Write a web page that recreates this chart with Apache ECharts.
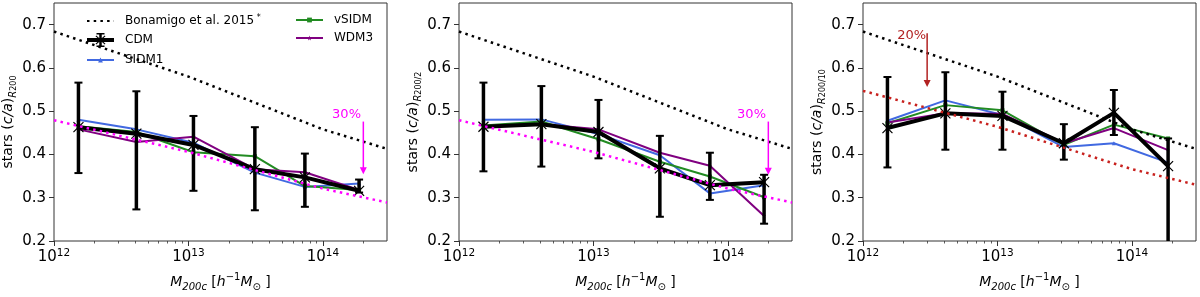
<!DOCTYPE html>
<html>
<head>
<meta charset="utf-8">
<script src="https://cdn.jsdelivr.net/npm/echarts@6/dist/echarts.min.js"></script>
<style>html,body{margin:0;padding:0;background:#fff}#c{width:1200px;height:297px}</style>
</head>
<body>
<div id="c"></div>
<script>
// ---- data ----
const massBins = [1.52e12, 4.1e12, 1.09e13, 3.12e13, 7.35e13, 1.86e14];

const bonamigoMass = [1e12, 1e13, 1e14, 3e14];
const bonamigoCA   = [0.684, 0.580, 0.458, 0.413];
const bonamigo70   = [0.479, 0.406, 0.321, 0.289];   // 30% lower
const bonamigo80   = [0.547, 0.464, 0.366, 0.330];   // 20% lower

// panel 1: R200
const cdmP1   = [0.463, 0.448, 0.422, 0.366, 0.347, 0.316];
const cdmLoP1 = [0.357, 0.273, 0.316, 0.271, 0.279, 0.312];
const cdmHiP1 = [0.566, 0.546, 0.489, 0.463, 0.402, 0.342];
const sidm1P1 = [0.480, 0.458, 0.427, 0.358, 0.325, 0.333];
const vsidmP1 = [0.465, 0.452, 0.405, 0.396, 0.327, 0.318];
const wdm3P1  = [0.458, 0.429, 0.441, 0.366, 0.359, 0.318];

// panel 2: R200/2
const cdmP2   = [0.464, 0.470, 0.452, 0.368, 0.329, 0.336];
const cdmLoP2 = [0.361, 0.372, 0.391, 0.256, 0.295, 0.240];
const cdmHiP2 = [0.566, 0.558, 0.526, 0.443, 0.404, 0.353];
const sidm1P2 = [0.480, 0.481, 0.447, 0.398, 0.310, 0.329];
const vsidmP2 = [0.467, 0.476, 0.435, 0.383, 0.349, 0.301];
const wdm3P2  = [0.465, 0.470, 0.458, 0.404, 0.374, 0.258];

// panel 3: R200/10
const cdmP3   = [0.461, 0.495, 0.489, 0.426, 0.496, 0.373];
const cdmLoP3 = [0.370, 0.411, 0.411, 0.388, 0.445, 0.150];
const cdmHiP3 = [0.579, 0.590, 0.545, 0.470, 0.549, 0.437];
const sidm1P3 = [0.478, 0.525, 0.491, 0.417, 0.426, 0.381];
const vsidmP3 = [0.472, 0.514, 0.502, 0.422, 0.469, 0.437];
const wdm3P3  = [0.474, 0.495, 0.494, 0.426, 0.461, 0.410];

// annotations (arrow from top to tip, label position)
const arrowMass = [2e14, 2e14, 3e12];
const arrowTop  = [0.476, 0.476, 0.680];
const arrowTip  = [0.354, 0.353, 0.556];
const noteMass  = [1.5e14, 1.5e14, 2.3e12];
const noteCA    = [0.491, 0.491, 0.674];
const noteText  = ['30%', '30%', '20%'];

const yTicks = [0.2, 0.3, 0.4, 0.5, 0.6, 0.7];
const xMajor = [1e12, 1e13, 1e14];
const xMinor = [2e12,3e12,4e12,5e12,6e12,7e12,8e12,9e12,2e13,3e13,4e13,5e13,6e13,7e13,8e13,9e13,2e14,3e14];
const ySubs  = ['200', '200/2', '200/10'];

// ---- styling ----
const FONT = 'DejaVu Sans';
const C_BLUE = '#4169e1', C_GREEN = '#228b22', C_PURPLE = '#800080';
const C_MAG = '#ff00ff', C_RED = '#b22222';
const gridLefts = [54, 459, 863];
const GW = 333;

const pairs = (xs, ys) => xs.map((x, i) => [x, ys[i]]);

const panels = [
  {cdm: cdmP1, lo: cdmLoP1, hi: cdmHiP1, sidm: sidm1P1, vsidm: vsidmP1, wdm: wdm3P1, ref: bonamigo70, refColor: C_MAG, noteColor: C_MAG},
  {cdm: cdmP2, lo: cdmLoP2, hi: cdmHiP2, sidm: sidm1P2, vsidm: vsidmP2, wdm: wdm3P2, ref: bonamigo70, refColor: C_MAG, noteColor: C_MAG},
  {cdm: cdmP3, lo: cdmLoP3, hi: cdmHiP3, sidm: sidm1P3, vsidm: vsidmP3, wdm: wdm3P3, ref: bonamigo80, refColor: '#c8211e', noteColor: C_RED}
];

const grid = [], xAxis = [], yAxis = [], series = [];

const axisNameRich = {
  n: {fontSize: 14, fontFamily: FONT, color: '#000', lineHeight: 20},
  i: {fontSize: 14, fontFamily: FONT, color: '#000', fontStyle: 'italic', lineHeight: 20},
  si: {fontSize: 10, fontFamily: FONT, color: '#000', fontStyle: 'italic', verticalAlign: 'bottom', lineHeight: 20},
  s: {fontSize: 8, fontFamily: FONT, color: '#000', verticalAlign: 'bottom', lineHeight: 20},
  ss: {fontSize: 10, fontFamily: FONT, color: '#000', fontStyle: 'italic', verticalAlign: 'bottom', lineHeight: 20},
  sup: {fontSize: 10, fontFamily: FONT, color: '#000', verticalAlign: 'top', lineHeight: 20},
  sub: {fontSize: 10, fontFamily: FONT, color: '#000', verticalAlign: 'bottom', lineHeight: 20}
};

const X_MIN = 1e12, X_MAX = 3e14;

panels.forEach((p, k) => {
  grid.push({left: gridLefts[k], width: GW, top: 3, height: 245, show: true, borderColor: '#333', borderWidth: 1, containLabel: false});
  xAxis.push({
    type: 'log', logBase: 10, gridIndex: k, min: X_MIN, max: X_MAX,
    axisLine: {show: false}, splitLine: {show: false},
    axisTick: {show: true, length: 5, lineStyle: {color: '#333', width: 1}, customValues: xMajor},
    axisLabel: {
      customValues: xMajor, margin: 7,
      formatter: v => '{b|10}{e|' + Math.round(Math.log10(v)) + '}',
      rich: {
        b: {fontSize: 15, fontFamily: FONT, color: '#000', lineHeight: 18},
        e: {fontSize: 10.5, fontFamily: FONT, color: '#000', verticalAlign: 'top', lineHeight: 18}
      }
    },
    name: '{i|M}{ss|200c}{n| [}{i|h}{sup|−1}{i|M}{sub|⊙}{n| ]}',
    nameLocation: 'middle', nameGap: 31,
    nameTextStyle: {rich: axisNameRich}
  });
  yAxis.push({
    type: 'value', gridIndex: k, min: 0.2, max: 0.75,
    axisLine: {show: false}, splitLine: {show: false},
    axisTick: {show: true, length: 5, lineStyle: {color: '#333', width: 1}, customValues: yTicks},
    axisLabel: {customValues: yTicks, margin: 8, fontSize: 15, fontFamily: FONT, color: '#000',
      formatter: v => v.toFixed(1)},
    name: '{n|stars (}{i|c/a}{n|)}{si|R}{s|' + ySubs[k] + '}',
    nameLocation: 'middle', nameRotate: 90, nameGap: 35,
    nameTextStyle: {rich: axisNameRich}
  });
});
// minor x ticks
panels.forEach((p, k) => {
  xAxis.push({
    type: 'log', logBase: 10, gridIndex: k, min: X_MIN, max: X_MAX, position: 'bottom',
    axisLine: {show: false}, splitLine: {show: false}, axisLabel: {show: false},
    axisTick: {show: true, length: 2.5, lineStyle: {color: '#333', width: 0.8}, customValues: xMinor}
  });
});

const xPath = 'path://M0,0L10,10M10,0L0,10';
const starPath = 'path://M5,0L6.2,3.6L10,3.8L7,6.1L8.1,10L5,7.7L1.9,10L3,6.1L0,3.8L3.8,3.6Z';
const cdmLegendIcon = 'path://M0,5H27V9H0Z M12.25,0H14.75V14H12.25Z M9.5,0H17.5V1.5H9.5Z M9.5,12.5H17.5V14H9.5Z ' +
  'M8.5,3.3L9.3,2.5L18.5,10.7L17.7,11.5Z M17.7,2.5L18.5,3.3L9.3,11.5L8.5,10.7Z';

panels.forEach((p, k) => {
  const ax = {xAxisIndex: k, yAxisIndex: k};
  series.push(Object.assign({
    name: 'SIDM1', type: 'line', data: pairs(massBins, p.sidm), z: 3,
    symbol: 'triangle', symbolSize: 4, showSymbol: true,
    lineStyle: {color: C_BLUE, width: 2}, itemStyle: {color: C_BLUE}
  }, ax));
  series.push(Object.assign({
    name: 'vSIDM', type: 'line', data: pairs(massBins, p.vsidm), z: 3,
    symbol: 'rect', symbolSize: 4, showSymbol: true,
    lineStyle: {color: C_GREEN, width: 2}, itemStyle: {color: C_GREEN}
  }, ax));
  series.push(Object.assign({
    name: 'WDM3', type: 'line', data: pairs(massBins, p.wdm), z: 3,
    symbol: starPath, symbolSize: 4, showSymbol: true,
    lineStyle: {color: C_PURPLE, width: 2}, itemStyle: {color: C_PURPLE}
  }, ax));
  series.push(Object.assign({
    name: 'CDM errors', type: 'custom', clip: true, z: 4,
    data: massBins.map((x, i) => [x, p.lo[i], p.hi[i]]),
    encode: {x: 0, y: [1, 2]},
    renderItem: (params, api) => {
      const x = api.value(0), lo = api.value(1), hi = api.value(2);
      const a = api.coord([x, hi]), b = api.coord([x, lo]);
      const cw = 4;
      return {type: 'group', children: [
        {type: 'line', shape: {x1: a[0], y1: a[1], x2: b[0], y2: b[1]}, style: {stroke: '#000', lineWidth: 3.5}},
        {type: 'line', shape: {x1: a[0] - cw, y1: a[1], x2: a[0] + cw, y2: a[1]}, style: {stroke: '#000', lineWidth: 2}},
        {type: 'line', shape: {x1: b[0] - cw, y1: b[1], x2: b[0] + cw, y2: b[1]}, style: {stroke: '#000', lineWidth: 2}}
      ]};
    }
  }, ax));
  series.push(Object.assign({
    name: 'CDM', type: 'line', data: pairs(massBins, p.cdm), z: 5,
    symbol: xPath, symbolSize: 10, showSymbol: true,
    lineStyle: {color: '#000', width: 4},
    itemStyle: {color: '#000', borderColor: '#000', borderWidth: 1.2}
  }, ax));
  series.push(Object.assign({
    name: 'Bonamigo et al. 2015', type: 'line', data: pairs(bonamigoMass, bonamigoCA), z: 6,
    symbol: 'none', itemStyle: {color: '#000'},
    lineStyle: {color: '#000', width: 2.5, type: [2.5, 4.2], cap: 'butt'}
  }, ax));
  series.push(Object.assign({
    name: 'ref' + k, type: 'line', data: pairs(bonamigoMass, p.ref), z: 6,
    symbol: 'none', lineStyle: {color: p.refColor, width: 2.5, type: [2.5, 4.2], cap: 'butt'}
  }, ax));
  series.push(Object.assign({
    name: 'note' + k, type: 'custom', z: 7, clip: false,
    data: [[arrowMass[k], arrowTop[k], arrowTip[k], noteMass[k], noteCA[k]]],
    encode: {x: 0, y: 1},
    renderItem: (params, api) => {
      const top = api.coord([api.value(0), api.value(1)]);
      const tip = api.coord([api.value(0), api.value(2)]);
      const lab = api.coord([api.value(3), api.value(4)]);
      const hl = 7, hw = 3.5;
      return {type: 'group', children: [
        {type: 'line', shape: {x1: top[0], y1: top[1], x2: tip[0], y2: tip[1] - hl + 1}, style: {stroke: p.noteColor, lineWidth: 1.5}},
        {type: 'polygon', shape: {points: [[tip[0], tip[1]], [tip[0] - hw, tip[1] - hl], [tip[0] + hw, tip[1] - hl]]}, style: {fill: p.noteColor}},
        {type: 'text', x: lab[0], y: lab[1], style: {text: noteText[k], fill: p.noteColor, fontSize: 13, fontFamily: FONT, align: 'center', verticalAlign: 'middle'}}
      ]};
    }
  }, ax));
});

const legendText = {
  fontSize: 12, fontFamily: FONT, color: '#000',
  rich: {
    t: {fontSize: 12, fontFamily: FONT, color: '#000', padding: [0, 0, 0, 6], lineHeight: 14},
    sup: {fontSize: 8, fontFamily: FONT, color: '#000', verticalAlign: 'top', lineHeight: 14}
  }
};
const legendFmt = name => name === 'Bonamigo et al. 2015' ? '{t|Bonamigo et al. 2015}{sup| *}' : '{t|' + name + '}';
const legendBase = {orient: 'vertical', padding: 0, itemWidth: 27, itemGap: 6, selectedMode: false,
  textStyle: legendText, formatter: legendFmt};

const option = {
  animation: false,
  backgroundColor: '#fff',
  grid, xAxis, yAxis, series,
  legend: [
    Object.assign({}, legendBase, {data: [
        {name: 'Bonamigo et al. 2015', itemStyle: {opacity: 0}},
        {name: 'CDM', icon: cdmLegendIcon, itemStyle: {color: '#000', borderWidth: 0}}],
      left: 86, top: 14, itemHeight: 14, symbolKeepAspect: false}),
    Object.assign({}, legendBase, {data: ['SIDM1'], left: 86, top: 54, itemHeight: 6}),
    Object.assign({}, legendBase, {data: ['vSIDM', 'WDM3'], left: 295, top: 14, itemHeight: 6})
  ]
};

const chart = echarts.init(document.getElementById('c'), null, {renderer: 'canvas'});
chart.setOption(option);
</script>
</body>
</html>
